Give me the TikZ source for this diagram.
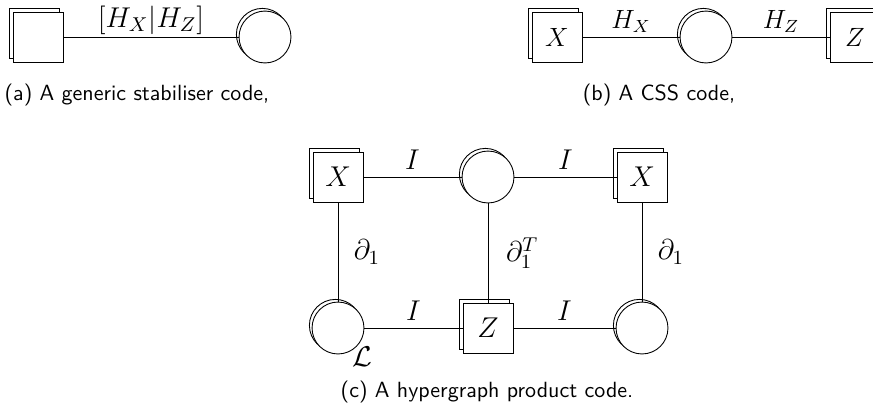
\RequirePackage{fix-cm}
\documentclass[tikz,border=0pt]{standalone}
\usetikzlibrary{shadows}

\begin{document}
\begin{tikzpicture}[x=0.4545pt,y=-0.4545pt]
\tikzstyle{every node}=[inner sep=1pt]
\tikzstyle{chk}=[draw,fill=white,minimum size=22.7pt,inner sep=0pt,
  copy shadow={shadow xshift=-1.8pt,shadow yshift=1.8pt,draw=black,fill=white}]
\tikzstyle{qbt}=[draw,fill=white,circle,minimum size=23.6pt,inner sep=0pt,
  copy shadow={shadow xshift=-1.2pt,shadow yshift=1.2pt,draw=black,fill=white}]
\tikzstyle{big}=[font=\fontsize{13}{16}\selectfont]
\tikzstyle{mid}=[font=\fontsize{12}{14}\selectfont]
\tikzstyle{subcap}=[font=\sffamily\fontsize{10}{12}\selectfont]
\useasboundingbox (0,0) rectangle (873,414);
% (a)
\draw (38,37) node (sa) [chk] {};
\draw (265,37) node (qa) [qbt] {};
\draw (sa) -- (qa) node[midway,above=0pt,big] (lhxz) {$[H_X|H_Z]$};
\draw (137,95) node (capa) [subcap] {(a) A generic stabiliser code,};
% (b)
\draw (557,37) node (xb) [chk,mid] {$X$};
\draw (706,37) node (qb) [qbt] {};
\draw (855,37) node (zb) [chk,mid] {$Z$};
\draw (xb) -- (qb) node[midway,above=1pt,mid] (lhx) {$H_X$};
\draw (qb) -- (zb) node[midway,above=1pt,mid] (lhz) {$H_Z$};
\draw (659,95) node (capb) [subcap] {(b) A CSS code,};
% (c)
\draw (338,177) node (x1) [chk,big] {$X$};
\draw (488,177) node (q0) [qbt] {};
\draw (642,177) node (x2) [chk,big] {$X$};
\draw (338,328) node (q1) [qbt] {};
\draw (488,328) node (z0) [chk,big] {$Z$};
\draw (642,328) node (q2) [qbt] {};
\draw (x1) -- (q0) node[midway,above=2pt,big] (li1) {$I$};
\draw (q0) -- (x2) node[midway,above=2pt,big] (li2) {$I$};
\draw (q1) -- (z0) node[midway,above=2pt,big] (li3) {$I$};
\draw (z0) -- (q2) node[midway,above=2pt,big] (li4) {$I$};
\draw (x1) -- (q1) node[midway,right=6pt,big] (ld1) {$\partial_1$};
\draw (q0) -- (z0) node[midway,right=7pt,big] (ld2) {$\partial_1^T$};
\draw (x2) -- (q2) node[midway,right=6pt,big] (ld3) {$\partial_1$};
\node (ll) [anchor=north west,inner sep=0pt,xshift=-2pt,big] at (q1.south east) {$\mathcal{L}$};
\draw (487,392) node (capc) [subcap] {(c) A hypergraph product code.};
\end{tikzpicture}
\end{document}
